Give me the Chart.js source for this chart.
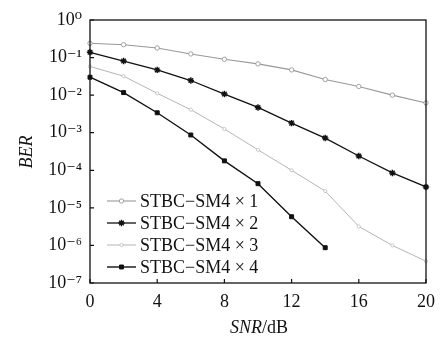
<!DOCTYPE html>
<html>
<head>
<meta charset="utf-8">
<script src="https://cdn.jsdelivr.net/npm/chart.js@4/dist/chart.umd.min.js"></script>
<style>
    html, body { margin: 0; padding: 0; background: #fff; }
    #wrap { width: 443px; height: 338px; }
</style>
</head>
<body>
<div id="wrap"><canvas id="myChart"></canvas></div>
<script>
"use strict";

// SNR in dB
const snr = [0, 2, 4, 6, 8, 10, 12, 14, 16, 18, 20];
const seriesNames = ['STBC\u2212SM4 \u00d7 1', 'STBC\u2212SM4 \u00d7 2', 'STBC\u2212SM4 \u00d7 3', 'STBC\u2212SM4 \u00d7 4'];
// BER
const ber1 = [0.24, 0.22, 0.18, 0.125, 0.09, 0.068, 0.047, 0.026, 0.017, 0.010, 0.0062];
const ber2 = [0.138, 0.081, 0.047, 0.0245, 0.0107, 0.0047, 0.0018, 7.2e-4, 2.4e-4, 8.5e-5, 3.6e-5];
const ber3 = [0.058, 0.032, 0.0112, 0.0041, 0.00126, 3.5e-4, 1.0e-4, 2.8e-5, 3.2e-6, 1.0e-6, 3.8e-7];
const ber4 = [0.030, 0.0117, 0.0034, 8.7e-4, 1.78e-4, 4.4e-5, 5.8e-6, 8.7e-7];
const xTicks = [0, 4, 8, 12, 16, 20];
const yTicks = [1, 1e-1, 1e-2, 1e-3, 1e-4, 1e-5, 1e-6, 1e-7];

const SERIF = "'Liberation Serif', 'DejaVu Serif', serif";
const sup = { '0': '\u2070', '1': '\u00b9', '2': '\u00b2', '3': '\u00b3', '4': '\u2074', '5': '\u2075',
    '6': '\u2076', '7': '\u2077', '8': '\u2078', '9': '\u2079', '-': '\u207b' };

function toPoints(values) {
    return values.map((v, i) => ({ x: snr[i], y: v }));
}

const styles = [
    { color: '#999', pointStyle: 'circle', radius: 2.2, fill: '#fff', width: 1.1, pw: 0.9 },
    { color: '#111', pointStyle: 'star', radius: 3.2, fill: '#111', width: 1.3, pw: 1.4 },
    { color: '#b5b5b5', pointStyle: 'circle', radius: 1.6, fill: '#fff', width: 1, pw: 0.7 },
    { color: '#111', pointStyle: 'rect', radius: 2.8, fill: '#111', width: 1.4, pw: 1 }
];
const allData = [ber1, ber2, ber3, ber4];

const datasets = allData.map((d, i) => ({
    label: seriesNames[i],
    data: toPoints(d),
    borderColor: styles[i].color,
    backgroundColor: styles[i].fill,
    borderWidth: styles[i].width,
    pointStyle: styles[i].pointStyle,
    pointRadius: styles[i].radius,
    pointBorderColor: styles[i].color,
    pointBackgroundColor: styles[i].fill,
    pointBorderWidth: styles[i].pw,
    tension: 0,
    clip: false
}));

// frame, inward ticks, axis titles and legend
const decor = {
    id: 'decor',
    afterDatasetsDraw(chart) {
        const c = chart.ctx;
        const a = chart.chartArea;
        const xs = chart.scales.x;
        const ys = chart.scales.y;
        c.save();
        c.strokeStyle = '#111';
        c.lineWidth = 1.3;
        c.strokeRect(a.left, a.top, a.right - a.left, a.bottom - a.top);
        c.lineWidth = 1.2;
        c.beginPath();
        xTicks.forEach(t => {
            const px = xs.getPixelForValue(t);
            c.moveTo(px, a.bottom);
            c.lineTo(px, a.bottom - 4);
        });
        yTicks.forEach(t => {
            const py = ys.getPixelForValue(t);
            c.moveTo(a.left, py);
            c.lineTo(a.left + 4, py);
        });
        c.stroke();

        // legend
        c.font = '18px ' + SERIF;
        c.textBaseline = 'middle';
        c.textAlign = 'left';
        const rows = [201, 223, 245, 267];
        chart.data.datasets.forEach((ds, i) => {
            const y = rows[i];
            c.strokeStyle = ds.borderColor;
            c.lineWidth = ds.borderWidth;
            c.beginPath();
            c.moveTo(107, y);
            c.lineTo(136, y);
            c.stroke();
            c.fillStyle = ds.pointBackgroundColor;
            c.strokeStyle = ds.pointBorderColor;
            c.lineWidth = ds.pointBorderWidth;
            Chart.helpers.drawPoint(c, { pointStyle: ds.pointStyle, radius: ds.pointRadius, borderWidth: ds.pointBorderWidth }, 121.5, y);
            c.fillStyle = '#111';
            c.fillText(ds.label, 140, y + 1);
        });

        // axis titles
        c.fillStyle = '#111';
        c.font = 'italic 18px ' + SERIF;
        c.save();
        c.translate(27, 152);
        c.rotate(-Math.PI / 2);
        c.textAlign = 'center';
        c.fillText('BER', 0, 0);
        c.restore();

        const part1 = 'SNR';
        const part2 = '/dB';
        c.font = 'italic 18px ' + SERIF;
        const w1 = c.measureText(part1).width;
        c.font = '18px ' + SERIF;
        const w2 = c.measureText(part2).width;
        let x0 = (a.left + a.right) / 2 - (w1 + w2) / 2 + 1;
        c.textAlign = 'left';
        c.font = 'italic 18px ' + SERIF;
        c.fillText(part1, x0, 328);
        c.font = '18px ' + SERIF;
        c.fillText(part2, x0 + w1, 328);
        c.restore();
    }
};

const ctx = document.getElementById('myChart');
const myChart = new Chart(ctx, {
    type: 'line',
    data: { datasets: datasets },
    options: {
        responsive: true,
        maintainAspectRatio: false,
        animation: false,
        devicePixelRatio: 1,
        layout: { padding: { top: 20, right: 14, left: 0, bottom: 0 } },
        plugins: {
            legend: { display: false },
            tooltip: { enabled: false }
        },
        scales: {
            x: {
                type: 'linear',
                min: 0,
                max: 20,
                afterBuildTicks: (scale) => { scale.ticks = xTicks.map(v => ({ value: v })); },
                afterFit: (scale) => { scale.height = 55; },
                grid: { display: false, drawTicks: false },
                border: { display: false },
                ticks: {
                    padding: 8,
                    color: '#111',
                    font: { family: SERIF, size: 18 },
                    maxRotation: 0
                }
            },
            y: {
                type: 'logarithmic',
                min: 1e-7,
                max: 1,
                afterBuildTicks: (scale) => { scale.ticks = yTicks.map(v => ({ value: v })); },
                afterFit: (scale) => { scale.width = 90; },
                grid: { display: false, drawTicks: false },
                border: { display: false },
                ticks: {
                    padding: 8,
                    color: '#111',
                    font: { family: SERIF, size: 18 },
                    callback: function (value) {
                        const e = Math.round(Math.log10(value)).toString();
                        return '10' + e.split('').map(ch => sup[ch]).join('');
                    }
                }
            }
        }
    },
    plugins: [decor]
});
</script>
</body>
</html>
